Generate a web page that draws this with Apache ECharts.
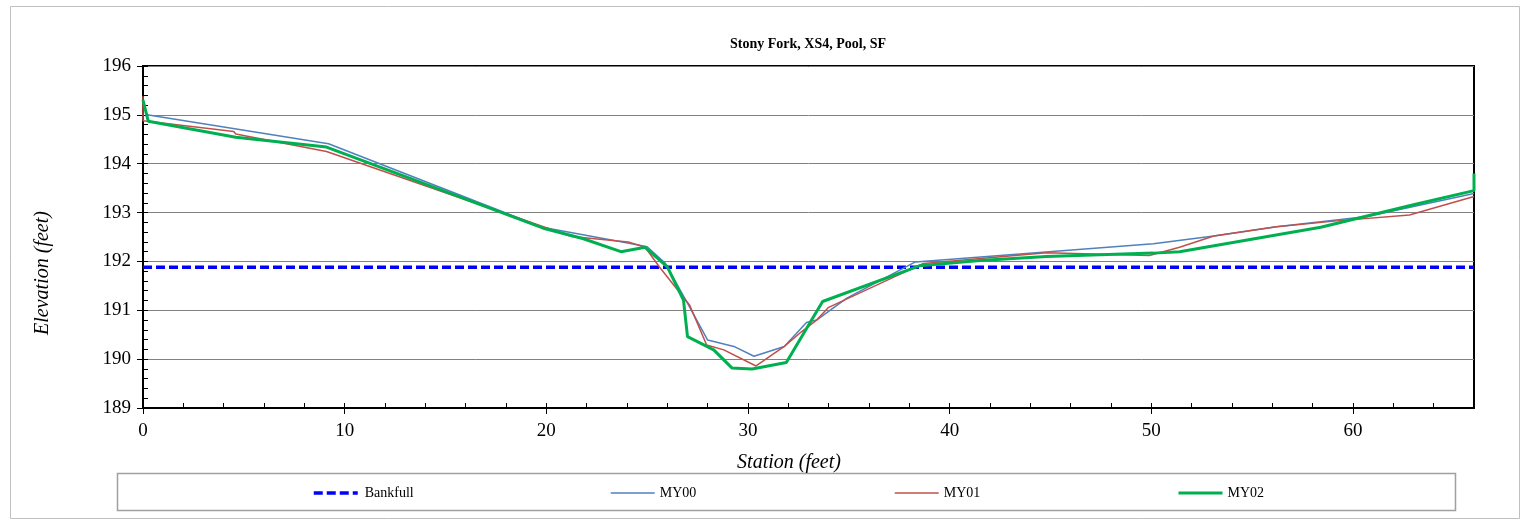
<!DOCTYPE html>
<html>
<head>
<meta charset="utf-8">
<script src="https://cdn.jsdelivr.net/npm/echarts@6/dist/echarts.min.js"></script>
<style>
html,body{margin:0;padding:0;background:#fff;}
#chart{width:1530px;height:527px;}
</style>
</head>
<body>
<div id="chart"></div>
<script>
// ---- data ----
const chartTitle = 'Stony Fork, XS4, Pool, SF';
const xName = 'Station (feet)';
const yName = 'Elevation (feet)';
const xTickLabels = [0, 10, 20, 30, 40, 50, 60];
const yTickLabels = [189, 190, 191, 192, 193, 194, 195, 196];
const seriesNames = ['Bankfull', 'MY00', 'MY01', 'MY02'];

const bankfull = [[0, 191.88], [66, 191.88]];

const my00 = [
  [0.2, 195.0], [9.2, 194.41], [19.8, 192.70], [24.1, 192.37], [25.0, 192.30],
  [25.9, 191.96], [27.1, 191.07], [28.0, 190.39], [29.3, 190.26], [30.3, 190.06],
  [31.8, 190.26], [32.9, 190.75], [33.4, 190.80], [34.9, 191.25], [38.3, 191.99],
  [50.1, 192.36], [53.1, 192.52], [56.2, 192.71], [60.7, 192.92], [66.0, 193.39]
];

const my01 = [
  [0, 195.38], [0, 194.88], [4.5, 194.66], [4.6, 194.61], [9.1, 194.25],
  [21.25, 192.51], [24.06, 192.40], [24.9, 192.29], [25.6, 191.89], [27.1, 191.11],
  [27.95, 190.29], [28.8, 190.19], [30.4, 189.86], [31.8, 190.26], [32.65, 190.56],
  [33.4, 190.80], [34.0, 191.06], [38.7, 191.96], [44.8, 192.18], [49.9, 192.12],
  [51.4, 192.29], [53.1, 192.52], [56.2, 192.71], [59.2, 192.83], [62.8, 192.95],
  [66.0, 193.33]
];

const my02 = [
  [0, 195.3], [0.26, 194.87], [4.6, 194.54], [9.1, 194.34], [19.85, 192.68],
  [21.8, 192.47], [23.7, 192.20], [24.9, 192.29], [26.0, 191.89], [26.8, 191.21],
  [27.0, 190.46], [28.3, 190.19], [29.2, 189.82], [30.2, 189.80], [31.9, 189.93],
  [33.7, 191.18], [38.5, 191.91], [41.5, 192.02], [44.8, 192.10], [50.1, 192.17],
  [51.4, 192.20], [58.4, 192.70], [63.0, 193.16], [66.0, 193.45], [66.0, 193.8]
];

// ---- chart ----
const FONT = 'Liberation Serif';
const gridBox = {left: 143, top: 66, width: 1331, height: 342};
const minorX = [];
for (let v = 0; v <= 66; v += 2) minorX.push(v);

const chart = echarts.init(document.getElementById('chart'), null, {renderer: 'canvas'});

function legendAt(name, left, extraPad) {
  return {
    data: [name],
    left: left,
    top: 486,
    padding: 0,
    orient: 'horizontal',
    itemWidth: 44,
    itemHeight: 14,
    selectedMode: false,
    itemStyle: {color: 'rgba(0,0,0,0)', borderWidth: 0, opacity: 0},
    lineStyle: {width: 'inherit', type: 'inherit', color: 'inherit'},
    textStyle: {fontFamily: FONT, fontSize: 14, color: '#000', padding: [0, 0, 0, extraPad || 0]}
  };
}

const option = {
  animation: false,
  backgroundColor: '#fff',
  grid: [{
    left: gridBox.left, top: gridBox.top, width: gridBox.width, height: gridBox.height,
    show: true, borderColor: '#000', borderWidth: 2, backgroundColor: 'transparent', containLabel: false
  }],
  legend: [
    legendAt(seriesNames[0], 312, 2),
    legendAt(seriesNames[1], 610, 0),
    legendAt(seriesNames[2], 894, 0),
    legendAt(seriesNames[3], 1177, 0)
  ],
  xAxis: [{
    type: 'value', min: 0, max: 66, interval: 10, gridIndex: 0,
    axisLine: {show: true, lineStyle: {color: '#000', width: 2}},
    axisTick: {show: true, length: 6, lineStyle: {color: '#000', width: 1}, customValues: xTickLabels},
    axisLabel: {show: true, customValues: xTickLabels, fontFamily: FONT, fontSize: 19, color: '#000', margin: 14},
    splitLine: {show: false}
  }, {
    type: 'value', min: 0, max: 66, interval: 2, gridIndex: 0, position: 'bottom',
    axisLine: {show: false},
    axisTick: {show: true, inside: true, length: 5, lineStyle: {color: '#000', width: 1}, customValues: minorX},
    axisLabel: {show: false},
    splitLine: {show: false}
  }],
  yAxis: [{
    type: 'value', min: 189, max: 196, interval: 1, gridIndex: 0,
    axisLine: {show: true, lineStyle: {color: '#000', width: 2}},
    axisTick: {show: true, length: 6, lineStyle: {color: '#000', width: 1}},
    axisLabel: {show: true, fontFamily: FONT, fontSize: 19, color: '#000', margin: 12},
    splitLine: {show: true, lineStyle: {color: '#808080', width: 1}}
  }, {
    type: 'value', min: 189, max: 196, interval: 0.2, gridIndex: 0, position: 'left',
    axisLine: {show: false},
    axisTick: {show: true, inside: true, length: 5, lineStyle: {color: '#000', width: 1}},
    axisLabel: {show: false},
    splitLine: {show: false}
  }],
  graphic: [
    {type: 'rect', shape: {x: 10.5, y: 6.5, width: 1509, height: 512}, style: {fill: 'none', stroke: '#c0c0c0', lineWidth: 1}, z: -1, silent: true},
    {type: 'rect', shape: {x: 117.5, y: 473.5, width: 1338, height: 37}, style: {fill: 'none', stroke: '#a0a0a0', lineWidth: 1.5}, z: -1, silent: true},
    {type: 'text', x: 808, y: 44, style: {text: chartTitle, font: 'bold 14px "Liberation Serif"', fill: '#000', textAlign: 'center', textVerticalAlign: 'middle'}},
    {type: 'text', x: 789, y: 463, style: {text: xName, font: 'italic 20px "Liberation Serif"', fill: '#000', textAlign: 'center', textVerticalAlign: 'middle'}},
    {type: 'text', x: 43, y: 273, rotation: Math.PI / 2, style: {text: yName, font: 'italic 20px "Liberation Serif"', fill: '#000', textAlign: 'center', textVerticalAlign: 'middle'}}
  ],
  series: [
    {name: seriesNames[0], type: 'line', data: bankfull, symbol: 'none', showSymbol: false, z: 2,
      lineStyle: {color: '#0000FF', width: 3.5, type: [9, 4]}, itemStyle: {color: '#0000FF'}},
    {name: seriesNames[1], type: 'line', data: my00, symbol: 'none', showSymbol: false, z: 3,
      lineStyle: {color: '#4F81BD', width: 1.5}, itemStyle: {color: '#4F81BD'}},
    {name: seriesNames[2], type: 'line', data: my01, symbol: 'none', showSymbol: false, z: 4,
      lineStyle: {color: '#C0504D', width: 1.5}, itemStyle: {color: '#C0504D'}},
    {name: seriesNames[3], type: 'line', data: my02, symbol: 'none', showSymbol: false, z: 5,
      lineStyle: {color: '#00B050', width: 3}, itemStyle: {color: '#00B050'}}
  ]
};
chart.setOption(option);
</script>
</body>
</html>
